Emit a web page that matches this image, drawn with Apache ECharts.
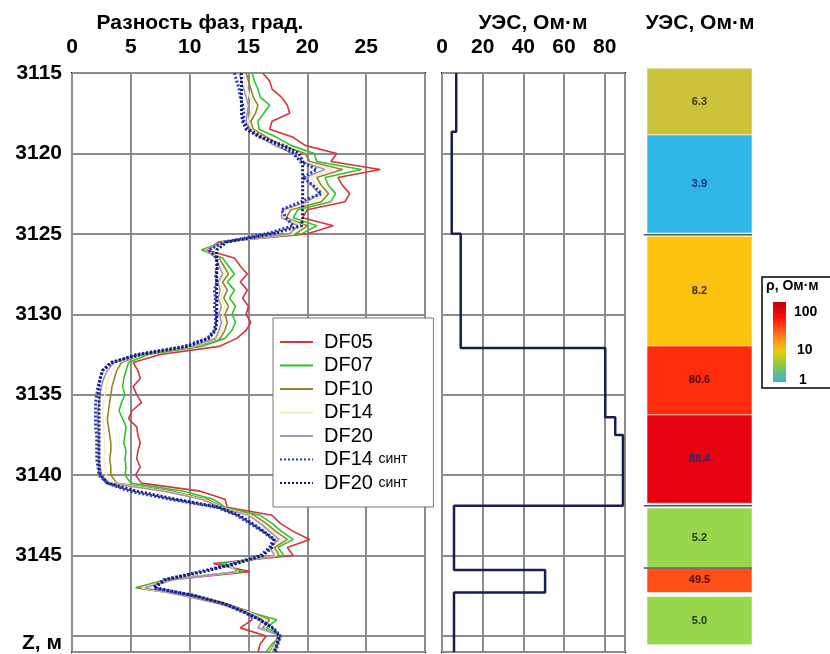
<!DOCTYPE html>
<html><head><meta charset="utf-8">
<script src="https://cdn.jsdelivr.net/npm/echarts@6/dist/echarts.min.js"></script>
<style>html,body{margin:0;padding:0;background:#fff}#c{width:830px;height:654px}</style>
</head><body><div id="c"></div>
<script>
// ---- data ----
const depth = [
3115,3115.5,3116,3116.5,3117,3117.5,3118,3118.5,3119,3119.5,
3120,3120.5,3121,3121.5,3122,3122.5,3123,3123.5,3124,3124.5,
3125,3125.5,3126,3126.5,3127,3127.5,3128,3128.5,3129,3129.5,
3130,3130.5,3131,3131.5,3132,3132.5,3133,3133.5,3134,3134.5,
3135,3135.5,3136,3136.5,3137,3137.5,3138,3138.5,3139,3139.5,
3140,3140.5,3141,3141.5,3142,3142.5,3143,3143.5,3144,3144.5,
3145,3145.5,3146,3146.5,3147,3147.5,3148,3148.5,3149,3149.5,
3150,3150.5,3151];
const df05 = [
16.2,16.8,17.0,17.8,18.3,18.5,17.0,16.8,18.8,19.8,
22.5,22.0,26.2,22.6,23.0,23.6,23.2,20.0,19.6,22.2,
20.0,12.5,11.4,13.8,14.3,14.9,14.3,14.9,14.5,15.0,
14.8,15.2,14.8,14.0,12.5,7.5,5.2,5.6,5.8,5.2,
5.5,5.9,5.1,4.8,5.5,5.6,5.8,5.6,5.5,5.8,
5.4,5.9,10.9,13.0,13.2,17.0,17.7,18.8,20.2,18.3,
18.8,12.0,15.1,8.5,5.5,10.5,13.1,15.1,15.3,14.3,
16.5,16.0,15.8];
const df07 = [
15.3,15.5,15.8,16.0,16.8,16.3,15.8,15.9,17.4,18.6,
20.6,20.8,24.6,21.5,21.8,22.4,22.0,19.2,18.8,20.8,
19.5,12.8,11.0,12.8,13.3,13.8,13.2,13.8,13.4,13.9,
13.6,13.9,13.6,13.0,11.0,6.5,4.8,4.6,4.4,4.3,
4.5,4.2,4.0,4.3,4.6,4.5,4.4,4.6,4.5,4.6,
4.5,5.0,9.5,12.0,13.0,16.0,17.0,17.8,18.8,17.5,
18.0,12.5,14.5,8.0,5.4,10.0,13.0,15.0,17.4,16.5,
17.8,17.0,16.5];
const df10 = [
14.8,15.0,15.2,15.4,15.8,15.6,15.2,15.4,16.6,17.8,
19.8,20.2,23.0,20.8,21.2,21.8,21.2,18.6,18.2,20.0,
19.0,12.8,11.2,12.5,12.9,13.3,12.8,13.2,12.9,13.3,
13.0,13.2,13.0,12.6,10.5,6.0,4.2,3.8,3.6,3.4,
3.3,3.2,3.1,3.0,3.1,3.2,3.3,3.3,3.2,3.3,
3.3,3.8,8.5,11.5,12.8,15.5,16.5,17.3,18.3,17.2,
17.6,13.0,14.2,8.2,5.6,9.8,12.8,15.0,16.8,16.2,
17.5,17.2,16.8];
const df14 = [
14.5,14.7,14.9,15.1,15.4,15.2,15.0,15.2,16.3,17.5,
19.3,19.8,22.2,20.3,20.8,21.4,20.6,18.2,18.0,19.6,
18.8,12.9,11.3,12.4,12.7,13.0,12.6,12.9,12.6,13.0,
12.8,12.9,12.7,12.4,10.3,5.8,3.9,3.4,3.1,2.9,
2.8,2.7,2.6,2.6,2.7,2.7,2.8,2.8,2.7,2.8,
2.9,3.5,8.1,11.2,12.7,15.2,16.2,17.0,17.9,17.0,
17.4,13.2,14.1,8.4,5.9,9.6,12.6,14.9,16.5,16.0,
17.6,17.3,16.9];
const df20 = [
14.2,14.4,14.6,14.8,15.0,14.9,14.8,15.0,16.0,17.2,
18.8,19.5,21.5,19.8,20.4,21.0,20.0,17.9,17.8,19.2,
18.5,13.0,11.4,12.2,12.5,12.8,12.4,12.6,12.4,12.7,
12.5,12.7,12.5,12.2,10.2,5.6,3.6,3.0,2.7,2.5,
2.4,2.3,2.2,2.2,2.2,2.3,2.3,2.3,2.3,2.4,
2.5,3.2,7.8,11.0,12.6,15.0,16.0,16.8,17.6,16.8,
17.2,13.5,14.0,8.6,6.2,9.5,12.5,14.8,16.2,15.8,
17.8,17.5,17.0];
const df14s = [
13.8,14.0,14.2,14.3,14.5,14.6,14.6,15.0,16.2,17.6,
18.8,19.4,20.8,19.6,20.5,21.2,19.5,17.8,18.2,18.8,
16.5,13.0,11.6,12.3,12.4,12.2,12.3,12.1,12.2,12.1,
12.2,12.2,12.1,11.5,9.5,5.5,3.4,2.6,2.4,2.2,
2.1,2.0,2.0,2.0,2.0,2.1,2.1,2.1,2.1,2.2,
2.3,3.0,4.9,8.3,12.3,14.0,15.1,16.2,17.1,16.8,
16.0,13.7,10.9,7.8,6.9,10.3,12.9,14.5,16.0,17.1,
17.7,17.5,17.3];
const df20s = [
14.4,14.4,14.4,14.4,14.4,14.4,14.5,14.8,16.0,18.0,
19.3,19.6,19.6,19.6,19.6,19.6,19.6,19.6,19.6,19.5,
17.0,13.2,12.3,12.3,12.3,12.3,12.3,12.3,12.3,12.3,
12.3,12.3,12.2,11.6,9.8,5.8,3.3,2.6,2.4,2.3,
2.3,2.3,2.3,2.3,2.3,2.3,2.3,2.3,2.3,2.3,
2.4,3.0,5.5,8.8,12.5,14.2,15.3,16.3,17.2,17.0,
16.2,14.0,11.2,8.0,7.0,10.5,13.0,14.6,16.0,17.0,
17.6,17.4,17.2];
const seriesNames = ['DF05','DF07','DF10','DF14','DF20','DF14 синт','DF20 синт'];

// resistivity step curve
const uesTop   = [3115, 3118.65, 3125.0, 3132.1, 3136.4, 3137.5, 3141.9, 3145.9, 3147.3];
const uesValue = [7.0, 4.8, 9.2, 80.3, 85.2, 89.0, 5.9, 50.7, 5.9];
const uesBottom = 3151;

// layer blocks
const blockTop    = [3114.7, 3118.85, 3125.15, 3131.97, 3136.26, 3142.05, 3145.8, 3147.55];
const blockBottom = [3118.85, 3124.95, 3131.97, 3136.26, 3141.75, 3145.75, 3147.3, 3150.55];
const blockLabel  = ['6.3','3.9','8.2','80.6','88.4','5.2','49.5','5.0'];
const blockSeparators = [3125.05, 3141.9, 3145.78];

const phaseTicks = [0,5,10,15,20,25];
const uesTicks = [0,20,40,60,80];
const depthTicks = [3115,3120,3125,3130,3135,3140,3145];
const colorbarTicks = ['100','10','1'];

// ---- styles ----
const FONT = '"Liberation Sans", Arial, sans-serif';
const lineColors = ['#d4343a','#2cc62c','#948624','#f2eec4','#a494b4','#2434cc','#101c6c'];
const blockColors = ['#c9c23a','#2fb6e6','#fbc30e','#ff2c0e','#e6020e','#98d64e','#ff4e16','#98d64e'];
const blockTextColors = ['#3a3a10','#1a2a7a','#3a2a00','#4a0a0a','#2a2a7a','#1a3a10','#4a0a0a','#1a3a10'];
const gridLine = {lineStyle:{color:'#8c8c8c', width:2}};
const tickFont = {fontSize:21, fontWeight:'bold', color:'#000', fontFamily:FONT};

const phaseData = [df05, df07, df10, df14, df20, df14s, df20s];
const series = phaseData.map((vals, k) => ({
  name: seriesNames[k], type:'line', xAxisIndex:0, yAxisIndex:0,
  symbol:'none', showSymbol:false, z: k >= 5 ? 4 : 3,
  lineStyle: k >= 5 ? {color: lineColors[k], width:3, type:[2,2]} : {color: lineColors[k], width:1.6},
  itemStyle:{color: lineColors[k]},
  data: depth.map((d,i) => [vals[i], d])
}));

const uesPts = [];
uesTop.forEach((t,i) => {
  const b = i < uesTop.length-1 ? uesTop[i+1] : uesBottom;
  uesPts.push([uesValue[i], t]); uesPts.push([uesValue[i], b]);
});
series.push({
  name:'УЭС', type:'line', xAxisIndex:1, yAxisIndex:1, symbol:'none', showSymbol:false,
  lineStyle:{color:'#15204e', width:2.5}, data: uesPts
});
series.push({
  name:'blocks', type:'custom', xAxisIndex:2, yAxisIndex:2, clip:false,
  data: blockTop.map((t,i) => [i, t, blockBottom[i]]),
  renderItem: function(params, api){
    const i = api.value(0);
    const p0 = api.coord([0, api.value(1)]);
    const p1 = api.coord([1, api.value(2)]);
    return {type:'group', children:[
      {type:'rect', shape:{x:p0[0], y:p0[1], width:p1[0]-p0[0], height:p1[1]-p0[1]},
       style:{fill: blockColors[i], stroke:'rgba(255,255,255,0.55)', lineWidth:1}},
      {type:'text', x:(p0[0]+p1[0])/2, y:(p0[1]+p1[1])/2,
       style:{text: blockLabel[i], fill: blockTextColors[i], font:'bold 11px ' + FONT, align:'center', verticalAlign:'middle'}}
    ]};
  }
});
series.push({
  name:'sep', type:'custom', xAxisIndex:2, yAxisIndex:2, clip:false,
  data: blockSeparators.map(d => [d]),
  renderItem: function(params, api){
    const p0 = api.coord([-0.03, api.value(0)]);
    const p1 = api.coord([1, api.value(0)]);
    return {type:'line', shape:{x1:p0[0], y1:p0[1], x2:p1[0], y2:p1[1]}, style:{stroke:'#555', lineWidth:1.5}};
  }
});

const chart = echarts.init(document.getElementById('c'), null, {renderer:'canvas'});
chart.setOption({
  animation:false,
  textStyle:{fontFamily: FONT},
  grid:[
    {left:72, top:73, width:353, height:579, show:true, borderColor:'#000', borderWidth:2},
    {left:442, top:73, width:183, height:579, show:true, borderColor:'#000', borderWidth:2},
    {left:647, top:73, width:105, height:579, show:false}
  ],
  xAxis:[
    {gridIndex:0, type:'value', position:'top', min:0, max:30, interval:5,
     axisLine:{show:false}, axisTick:{show:false}, splitLine:gridLine,
     axisLabel:Object.assign({margin:15, formatter: v => phaseTicks.includes(v) ? String(v) : ''}, tickFont)},
    {gridIndex:1, type:'value', position:'top', min:0, max:90, interval:20,
     axisLine:{show:false}, axisTick:{show:false}, splitLine:gridLine,
     axisLabel:Object.assign({margin:15, formatter: v => uesTicks.includes(v) ? String(v) : ''}, tickFont)},
    {gridIndex:2, type:'value', min:0, max:1, show:false}
  ],
  yAxis:[
    {gridIndex:0, type:'value', inverse:true, min:3115, max:3151, interval:5,
     axisLine:{show:false}, axisTick:{show:false}, splitLine:gridLine,
     axisLabel:Object.assign({margin:10, formatter: v => depthTicks.includes(v) ? String(v) : ''}, tickFont)},
    {gridIndex:1, type:'value', inverse:true, min:3115, max:3151, interval:5,
     axisLine:{show:false}, axisTick:{show:false}, splitLine:gridLine, axisLabel:{show:false}},
    {gridIndex:2, type:'value', inverse:true, min:3115, max:3151, show:false}
  ],
  legend:{
    data: seriesNames, orient:'vertical', left:273, top:318,
    backgroundColor:'#fff', borderColor:'#777', borderWidth:1,
    padding:[13,26,13,6], itemWidth:33, itemHeight:22, itemGap:1.5,
    itemStyle:{opacity:0},
    textStyle:{fontSize:20, color:'#000', lineHeight:22, fontFamily:FONT, padding:[0,0,0,6],
      rich:{a:{fontSize:20, lineHeight:22, fontFamily:FONT, color:'#000'}, b:{fontSize:14, lineHeight:22, fontFamily:FONT, color:'#000'}}},
    formatter: name => name.indexOf('синт') > 0 ? '{a|' + name.split(' ')[0] + '} {b|синт}' : name
  },
  graphic:[
    {type:'text', style:{text:'Разность фаз, град.', font:'bold 21px ' + FONT, fill:'#000', align:'center', verticalAlign:'middle'}, x:200, y:23},
    {type:'text', style:{text:'УЭС, Ом·м', font:'bold 21px ' + FONT, fill:'#000', align:'center', verticalAlign:'middle'}, x:533, y:23},
    {type:'text', style:{text:'УЭС, Ом·м', font:'bold 21px ' + FONT, fill:'#000', align:'center', verticalAlign:'middle'}, x:700, y:23},
    {type:'text', style:{text:'Z, м', font:'bold 21px ' + FONT, fill:'#000', align:'right', verticalAlign:'middle'}, x:62, y:643},
    {type:'rect', shape:{x:762, y:277, width:80, height:111}, style:{fill:'#fff', stroke:'#000', lineWidth:1.5}},
    {type:'text', style:{text:'ρ, Ом·м', font:'bold 14px ' + FONT, fill:'#000', align:'left', verticalAlign:'middle'}, x:766, y:286},
    {type:'rect', shape:{x:773, y:302, width:13, height:80},
     style:{fill: new echarts.graphic.LinearGradient(0,0,0,1,[
       {offset:0, color:'#c00008'},{offset:0.2, color:'#ff1010'},{offset:0.45, color:'#ff8a10'},
       {offset:0.62, color:'#e8cc10'},{offset:0.8, color:'#88c840'},{offset:1, color:'#30b4e4'}])}},
    {type:'text', style:{text:colorbarTicks[0], font:'bold 14px ' + FONT, fill:'#000', align:'left', verticalAlign:'middle'}, x:794, y:312},
    {type:'text', style:{text:colorbarTicks[1], font:'bold 14px ' + FONT, fill:'#000', align:'left', verticalAlign:'middle'}, x:797, y:350},
    {type:'text', style:{text:colorbarTicks[2], font:'bold 14px ' + FONT, fill:'#000', align:'left', verticalAlign:'middle'}, x:799, y:380}
  ],
  series: series
});
</script>
</body></html>
